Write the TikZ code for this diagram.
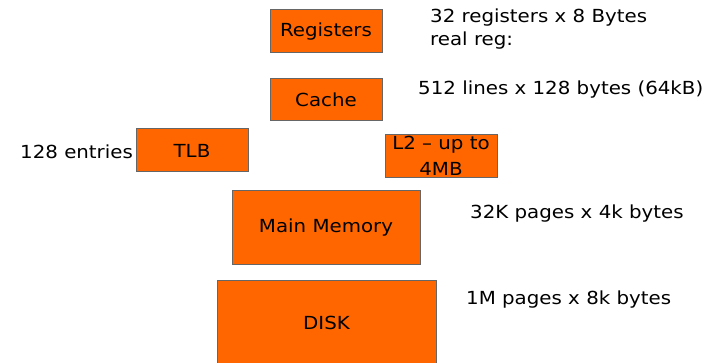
\documentclass[tikz,border=0pt]{standalone}
\usepackage{fontspec}
\setmainfont[FakeStretch=1.1]{DejaVu Sans}
\begin{document}
\begin{tikzpicture}[x=1pt,y=-1pt,
  box/.style={draw=black!60,line width=1pt,fill=boxorange,inner sep=0pt,anchor=center},
  lbl/.style={font=\fontsize{18}{22}\selectfont,inner sep=0pt},
  note/.style={font=\fontsize{18}{23}\selectfont,inner sep=0pt,anchor=west,align=left}]
\definecolor{boxorange}{HTML}{FF6600}
\useasboundingbox (0,0) rectangle (706,363);
\begin{scope}
\clip (0,0) rectangle (706,363);
\node[box,minimum width=112pt,minimum height=43pt] (reg) at (326,31.5) {};
\node[box,minimum width=112pt,minimum height=42pt] (cache) at (326,100) {};
\node[box,minimum width=112pt,minimum height=43pt] (tlb) at (192,150.5) {};
\node[box,minimum width=112pt,minimum height=43pt] (l2) at (441,156.5) {};
\node[box,minimum width=188pt,minimum height=73pt] (mem) at (326,227.5) {};
\node[box,minimum width=219pt,minimum height=90pt] (disk) at (326.5,325) {};
\node[lbl] (regt) at (reg.center) {Registers};
\node[lbl] (cachet) at (cache.center) {Cache};
\node[lbl] (tlbt) at (tlb.center) {TLB};
\node[lbl] (l2a) at (441,145) {L2 – up to};
\node[lbl] (l2b) at (441,169) {4MB};
\node[lbl] (memt) at (mem.center) {Main Memory};
\node[lbl] (diskt) at (326.5,323) {DISK};
\end{scope}
\node[note] (n1) at (430,18) {32 registers x 8 Bytes};
\node[note] (n2) at (430,41) {real reg:};
\node[note] (n3) at (418,90) {512 lines x 128 bytes (64kB)};
\node[note] (n4) at (20,152) {128 entries};
\node[note] (n5) at (470,214) {32K pages x 4k bytes};
\node[note] (n6) at (466,300) {1M pages x 8k bytes};
\end{tikzpicture}
\end{document}
